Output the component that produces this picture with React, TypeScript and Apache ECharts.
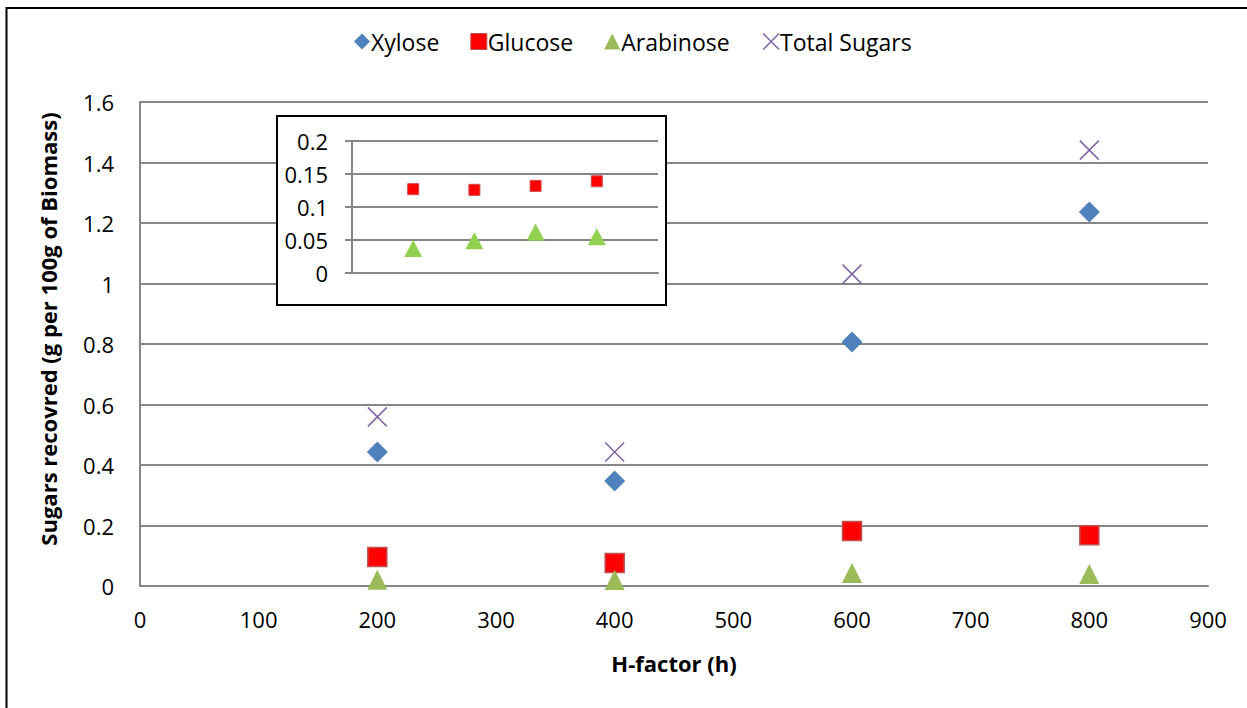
import React, { useEffect, useRef } from "react";
import * as echarts from "echarts";

const hFactor = [200, 400, 600, 800];
const xylose = [0.443, 0.347, 0.807, 1.236];
const glucose = [0.096, 0.076, 0.182, 0.168];
const arabinose = [0.021, 0.02, 0.043, 0.04];
const totalSugars = [0.559, 0.443, 1.031, 1.441];

const insetX = [1, 2, 3, 4];
const insetGlucose = [0.127, 0.126, 0.132, 0.139];
const insetArabinose = [0.037, 0.049, 0.062, 0.055];

const FONT = "Open Sans";
const X_PATH = "path://M0,0L10,10M10,0L0,10";

function pairs(xs: number[], ys: number[]) {
  return xs.map((x, i) => [x, ys[i]]);
}

export default function App() {
  const ref = useRef<HTMLDivElement>(null);
  useEffect(() => {
    if (!ref.current) return;
    const chart = echarts.init(ref.current, null, { renderer: "svg" });
    const axisLabel = { color: "#000", fontFamily: FONT, fontSize: 22 };
    chart.setOption({
      animation: false,
      backgroundColor: "#fff",
      textStyle: { fontFamily: FONT },
      legend: {
        top: 25,
        left: 349,
        itemGap: 31,
        itemWidth: 16,
        itemHeight: 16,
        textStyle: { fontFamily: FONT, fontSize: 23, color: "#000", padding: [0, 0, 0, -4] },
        data: [
          { name: "Xylose", icon: "diamond", itemStyle: { color: "#4f81bd", opacity: 1 } },
          { name: "Glucose", icon: "rect", itemStyle: { color: "#ff0000", borderColor: "#c0504d", borderWidth: 1, opacity: 1 } },
          { name: "Arabinose", icon: "triangle", itemStyle: { color: "#9bbb59", opacity: 1 } },
          { name: "Total Sugars", icon: X_PATH, itemStyle: { color: "none", borderColor: "#8064a2", borderWidth: 1.5, opacity: 1 } },
        ],
      },
      grid: [
        { left: 140, right: 39, top: 102, bottom: 122 },
        { left: 352, right: 589, top: 141, bottom: 435, z: 5 },
      ],
      xAxis: [
        {
          gridIndex: 0,
          type: "value",
          min: 0,
          max: 900,
          interval: 100,
          name: "H-factor (h)",
          nameLocation: "middle",
          nameGap: 66,
          nameTextStyle: { fontFamily: FONT, fontSize: 22, fontWeight: "bold", color: "#000" },
          axisLine: { show: true, lineStyle: { color: "#868686", width: 2 } },
          axisTick: { show: false },
          axisLabel: { ...axisLabel, margin: 22 },
          splitLine: { show: false },
        },
        {
          gridIndex: 1,
          type: "value",
          min: 0,
          max: 5,
          interval: 1,
          z: 6,
          axisLine: { show: true, onZero: false, lineStyle: { color: "#868686", width: 2 } },
          axisTick: { show: false },
          axisLabel: { show: false },
          splitLine: { show: false },
        },
      ],
      yAxis: [
        {
          gridIndex: 0,
          type: "value",
          min: 0,
          max: 1.6,
          interval: 0.2,
          axisLine: { show: true, lineStyle: { color: "#868686", width: 2 } },
          axisTick: { show: false },
          axisLabel: { ...axisLabel, margin: 26 },
          splitLine: { show: true, lineStyle: { color: "#868686", width: 2 } },
        },
        {
          gridIndex: 1,
          type: "value",
          min: 0,
          max: 0.2,
          interval: 0.05,
          z: 6,
          axisLine: { show: true, lineStyle: { color: "#868686", width: 2 } },
          axisTick: { show: true, length: 7, lineStyle: { color: "#868686", width: 2 } },
          axisLabel: { ...axisLabel, margin: 24 },
          splitLine: { show: true, lineStyle: { color: "#868686", width: 2 } },
        },
      ],
      graphic: [
        {
          type: "rect",
          z: -10,
          silent: true,
          shape: { x: 6.5, y: 8, width: 1270, height: 730 },
          style: { fill: "none", stroke: "#000", lineWidth: 2 },
        },
        {
          type: "rect",
          z: 3,
          silent: true,
          shape: { x: 277, y: 116, width: 389, height: 189 },
          style: { fill: "#fff", stroke: "#000", lineWidth: 2 },
        },
        {
          type: "text",
          z: 3,
          x: 48,
          y: 329,
          rotation: Math.PI / 2,
          style: {
            text: "Sugars recovred (g per 100g of Biomass)",
            fontFamily: FONT,
            fontSize: 22,
            fontWeight: "bold",
            fill: "#000",
            align: "center",
            verticalAlign: "middle",
          },
        },
      ],
      series: [
        {
          name: "Xylose",
          type: "scatter",
          xAxisIndex: 0,
          yAxisIndex: 0,
          symbol: "diamond",
          symbolSize: [21, 21],
          itemStyle: { color: "#4f81bd", opacity: 1 },
          data: pairs(hFactor, xylose),
        },
        {
          name: "Glucose",
          type: "scatter",
          xAxisIndex: 0,
          yAxisIndex: 0,
          symbol: "rect",
          symbolSize: 19,
          itemStyle: { color: "#ff0000", borderColor: "#c0504d", borderWidth: 1.5, opacity: 1 },
          data: pairs(hFactor, glucose),
        },
        {
          name: "Arabinose",
          type: "scatter",
          xAxisIndex: 0,
          yAxisIndex: 0,
          symbol: "triangle",
          symbolSize: [20, 20],
          itemStyle: { color: "#9bbb59", opacity: 1 },
          data: pairs(hFactor, arabinose),
        },
        {
          name: "Total Sugars",
          type: "scatter",
          xAxisIndex: 0,
          yAxisIndex: 0,
          symbol: X_PATH,
          symbolSize: 19,
          itemStyle: { color: "none", borderColor: "#8064a2", borderWidth: 1.5, opacity: 1 },
          data: pairs(hFactor, totalSugars),
        },
        {
          name: "Glucose inset",
          type: "scatter",
          xAxisIndex: 1,
          yAxisIndex: 1,
          z: 10,
          symbol: "rect",
          symbolSize: 11,
          itemStyle: { color: "#ff0000", borderColor: "#d04a4a", borderWidth: 1, opacity: 1 },
          data: pairs(insetX, insetGlucose),
        },
        {
          name: "Arabinose inset",
          type: "scatter",
          xAxisIndex: 1,
          yAxisIndex: 1,
          z: 10,
          symbol: "triangle",
          symbolSize: [18, 17],
          itemStyle: { color: "#92d050", opacity: 1 },
          data: pairs(insetX, insetArabinose),
        },
      ],
    });
    return () => chart.dispose();
  }, []);
  return (
    <div
      ref={ref}
      style={{ position: "absolute", left: 0, top: 0, width: 1247, height: 708 }}
    />
  );
}
